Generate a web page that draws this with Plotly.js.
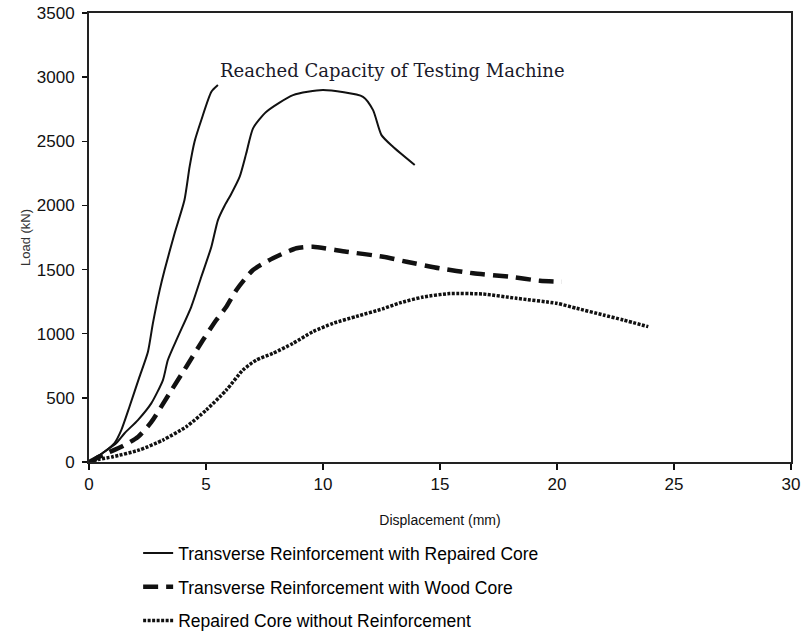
<!DOCTYPE html>
<html>
<head>
<meta charset="utf-8">
<script src="https://cdn.plot.ly/plotly-3.0.1.min.js"></script>
<style>html,body{margin:0;padding:0;background:#fff}#chart{width:801px;height:635px}</style>
</head>
<body>
<div id="chart"></div>
<script>
// Transverse Reinforcement with Repaired Core (test 1, stopped at machine capacity)
const repairedAx = [0, 0.24, 0.66, 1.09, 1.38, 1.73, 2.16, 2.52, 2.73, 3.02, 3.23, 3.66, 4.08, 4.30, 4.51, 4.80, 5.23, 5.51];
const repairedAy = [0, 31, 80, 148, 249, 431, 665, 860, 1081, 1340, 1497, 1783, 2042, 2302, 2497, 2666, 2886, 2938];
// Transverse Reinforcement with Repaired Core (test 2)
const repairedBx = [0, 0.3, 0.66, 1.16, 1.52, 2.09, 2.66, 3.16, 3.37, 3.80, 4.37, 4.80, 5.23, 5.51, 5.80, 6.05, 6.44, 6.72, 7.01, 7.58, 8.72, 10.0, 11.71, 12.14, 12.5, 12.99, 13.92];
const repairedBy = [0, 30, 80, 146, 224, 327, 457, 639, 795, 977, 1210, 1444, 1678, 1886, 2000, 2080, 2224, 2406, 2601, 2730, 2860, 2899, 2847, 2743, 2548, 2457, 2315];
// Transverse Reinforcement with Wood Core
const woodX = [0, 0.6, 1.45, 2.09, 2.66, 3.44, 4.16, 4.87, 5.44, 5.87, 6.30, 7.01, 7.86, 8.86, 9.57, 11.0, 12.57, 13.57, 14.99, 16.42, 17.99, 19.27, 20.2];
const woodY = [0, 55, 125, 195, 310, 535, 743, 951, 1107, 1210, 1341, 1497, 1588, 1666, 1678, 1639, 1600, 1561, 1510, 1471, 1444, 1413, 1405];
// Repaired Core without Reinforcement
const plainX = [0, 0.4, 1.02, 2.16, 3.16, 4.16, 5.01, 5.87, 6.58, 7.15, 7.86, 8.72, 9.57, 10.43, 11.43, 12.57, 13.28, 14.28, 15.42, 16.84, 18.27, 19.98, 20.84, 21.98, 22.83, 23.9];
const plainY = [0, 20, 41, 94, 171, 275, 405, 561, 717, 795, 847, 925, 1016, 1081, 1135, 1195, 1240, 1286, 1313, 1309, 1276, 1237, 1198, 1146, 1107, 1055];

const legendNames = [
  "Transverse Reinforcement with Repaired Core",
  "Transverse Reinforcement with Wood Core",
  "Repaired Core without Reinforcement"
];
const xTicks = [0, 5, 10, 15, 20, 25, 30];
const yTicks = [0, 500, 1000, 1500, 2000, 2500, 3000, 3500];
const noteText = "Reached Capacity of Testing Machine";
const notePos = [5.5, 3055];

const traces = [
  {x: repairedAx, y: repairedAy, mode: "lines", name: legendNames[0], legendgroup: "a",
   line: {color: "#111", width: 2, shape: "spline", smoothing: 0.6}},
  {x: repairedBx, y: repairedBy, mode: "lines", name: legendNames[0], legendgroup: "a", showlegend: false,
   line: {color: "#111", width: 2, shape: "spline", smoothing: 0.6}},
  {x: woodX, y: woodY, mode: "lines", name: legendNames[1], legendgroup: "b",
   line: {color: "#111", width: 4.5, dash: "15px,8px", shape: "spline", smoothing: 0.6}},
  {x: plainX, y: plainY, mode: "lines", name: legendNames[2], legendgroup: "c",
   line: {color: "#111", width: 3.5, dash: "3px,1.5px", shape: "spline", smoothing: 0.6}}
];

const tickFont = {family: "Arial, 'Liberation Sans', sans-serif", size: 17, color: "#111"};

const layout = {
  width: 801, height: 635,
  margin: {l: 89, r: 10, t: 13, b: 173, autoexpand: false},
  paper_bgcolor: "#fff", plot_bgcolor: "#fff",
  showlegend: true,
  legend: {x: 0.07, y: -0.163, xanchor: "left", yanchor: "top", orientation: "v",
    font: {family: "Arial, 'Liberation Sans', sans-serif", size: 17.5, color: "#000"},
    tracegroupgap: 8, bgcolor: "rgba(0,0,0,0)"},
  xaxis: {range: [0, 30], tickvals: xTicks, ticks: "outside", ticklen: 6, tickwidth: 1.5, tickcolor: "#111",
    showline: true, linecolor: "#222", linewidth: 2, mirror: true, showgrid: false, zeroline: false,
    automargin: false, tickfont: tickFont,
    title: {text: "Displacement (mm)", font: {family: "Arial, 'Liberation Sans', sans-serif", size: 14, color: "#111"}, standoff: 22}},
  yaxis: {range: [0, 3500], tickvals: yTicks, ticks: "outside", ticklen: 5, tickwidth: 1.5, tickcolor: "#111",
    showline: true, linecolor: "#222", linewidth: 2, mirror: true, showgrid: false, zeroline: false,
    automargin: false, tickfont: tickFont, ticklabelstandoff: 4,
    title: {text: "Load (kN)", font: {family: "Arial, 'Liberation Sans', sans-serif", size: 13, color: "#333"}, standoff: 3}},
  annotations: [{x: notePos[0], y: notePos[1], xref: "x", yref: "y", text: noteText, showarrow: false,
    xanchor: "left", yanchor: "middle",
    font: {family: "'DejaVu Serif', 'Liberation Serif', serif", size: 18, color: "#1a1a2a"}}]
};

Plotly.newPlot("chart", traces, layout, {displayModeBar: false, staticPlot: true});
</script>
</body>
</html>
